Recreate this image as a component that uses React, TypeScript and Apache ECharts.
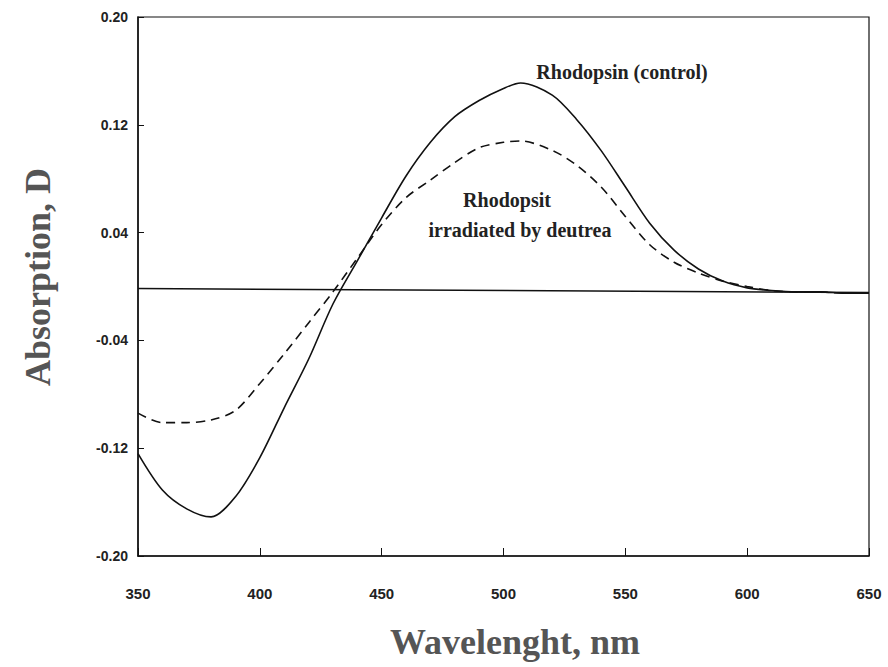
import React, { useEffect, useRef } from "react";
import * as echarts from "echarts";

const wavelengths = [350, 360, 370, 380, 390, 400, 410, 420, 430, 440, 450, 460, 470, 480, 490, 500, 507, 520, 530, 540, 550, 560, 570, 580, 590, 600, 610, 620, 630, 640, 650];
const control = [-0.124, -0.151, -0.165, -0.171, -0.156, -0.127, -0.09, -0.054, -0.013, 0.019, 0.051, 0.082, 0.107, 0.126, 0.138, 0.147, 0.151, 0.142, 0.124, 0.101, 0.074, 0.047, 0.027, 0.013, 0.004, -0.001, -0.003, -0.004, -0.004, -0.005, -0.005];
const irradiated = [-0.094, -0.101, -0.101, -0.099, -0.092, -0.072, -0.05, -0.027, -0.004, 0.021, 0.046, 0.066, 0.079, 0.092, 0.103, 0.107, 0.108, 0.101, 0.09, 0.074, 0.052, 0.031, 0.018, 0.01, 0.004, 0.0, -0.003, -0.004, -0.004, -0.005, -0.005];
const baseline = [-0.0015, -0.0045];
const xTicks = [350, 400, 450, 500, 550, 600, 650];
const yTicks = [-0.2, -0.12, -0.04, 0.04, 0.12, 0.2];

export default function App() {
  const ref = useRef<HTMLDivElement>(null);
  useEffect(() => {
    if (!ref.current) return;
    const chart = echarts.init(ref.current, null, { renderer: "svg" });
    const pairs = (ys: number[]) => wavelengths.map((w, i) => [w, ys[i]]);
    chart.setOption({
      animation: false,
      backgroundColor: "#fff",
      grid: { left: 138, top: 17, right: 19, bottom: 111, show: true, borderColor: "#111", borderWidth: 1.2, backgroundColor: "transparent" },
      xAxis: {
        type: "value",
        min: 350,
        max: 650,
        interval: 50,
        axisLine: { show: true, onZero: false, lineStyle: { color: "#111", width: 1.5 } },
        axisTick: { show: true, inside: true, length: 8, lineStyle: { color: "#111" }, customValues: xTicks },
        axisLabel: { margin: 30, fontFamily: "'Liberation Sans Narrow', 'Liberation Sans'", fontSize: 15, fontWeight: "bold", color: "#222", customValues: xTicks },
        splitLine: { show: false },
      },
      yAxis: {
        type: "value",
        min: -0.2,
        max: 0.2,
        axisLine: { show: true, onZero: false, lineStyle: { color: "#111", width: 1.5 } },
        axisTick: { show: true, inside: true, length: 6, lineStyle: { color: "#111" }, customValues: yTicks },
        axisLabel: { margin: 10, fontFamily: "'Liberation Sans Narrow', 'Liberation Sans'", fontSize: 14, fontWeight: "bold", color: "#222", customValues: yTicks, formatter: (v: number) => v.toFixed(2) },
        splitLine: { show: false },
      },
      graphic: [
        { type: "text", x: 622, y: 72, style: { text: "Rhodopsin (control)", font: "bold 20px 'Liberation Serif'", fill: "#222", align: "center", verticalAlign: "middle" } },
        { type: "text", x: 507, y: 200, style: { text: "Rhodopsit", font: "bold 20px 'Liberation Serif'", fill: "#222", align: "center", verticalAlign: "middle" } },
        { type: "text", x: 520, y: 230, style: { text: "irradiated by deutrea", font: "bold 20px 'Liberation Serif'", fill: "#222", align: "center", verticalAlign: "middle" } },
        { type: "text", x: 515, y: 642, style: { text: "Wavelenght, nm", font: "bold 36px 'Liberation Serif'", fill: "#555", align: "center", verticalAlign: "middle" } },
        { type: "text", x: 38, y: 277, rotation: Math.PI / 2, style: { text: "Absorption, D", font: "bold 36px 'Liberation Serif'", fill: "#555", align: "center", verticalAlign: "middle" } },
      ],
      series: [
        {
          type: "line",
          data: pairs(control),
          smooth: 0.3,
          showSymbol: false,
          lineStyle: { color: "#111", width: 1.6 },
          markLine: {
            silent: true,
            symbol: "none",
            label: { show: false },
            lineStyle: { color: "#111", width: 1.5, type: "solid" },
            data: [[{ coord: [350, baseline[0]] }, { coord: [650, baseline[1]] }]],
          },
        },
        {
          type: "line",
          data: pairs(irradiated),
          smooth: 0.3,
          showSymbol: false,
          lineStyle: { color: "#111", width: 1.6, type: [9, 6] },
        },
      ],
    });
    return () => chart.dispose();
  }, []);
  return <div ref={ref} style={{ width: 888, height: 667, position: "absolute", left: 0, top: 0 }} />;
}
